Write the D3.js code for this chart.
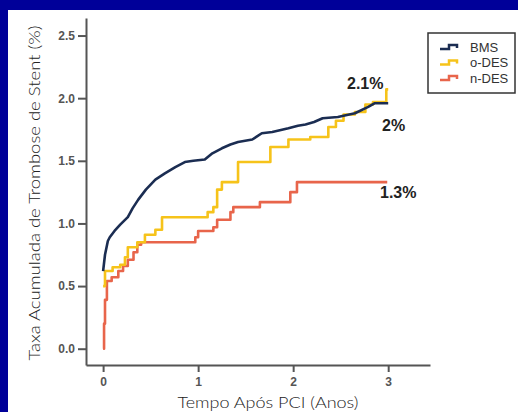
<!DOCTYPE html>
<html>
<head>
<meta charset="utf-8">
<script src="https://cdn.jsdelivr.net/npm/d3@7"></script>
<style>
  body { margin: 0; background: #000099; }
  svg { display: block; }
</style>
</head>
<body>
<script>
// series: [years after PCI, cumulative rate %]
const bms = [[0, 0.62], [0.02, 0.75], [0.05, 0.86], [0.07, 0.89], [0.12, 0.94], [0.18, 0.99], [0.22, 1.02],
  [0.26, 1.05], [0.31, 1.12], [0.37, 1.19], [0.45, 1.27], [0.55, 1.35], [0.65, 1.40], [0.76, 1.45],
  [0.86, 1.49], [0.95, 1.50], [1.07, 1.51], [1.15, 1.56], [1.25, 1.60], [1.34, 1.63], [1.42, 1.65],
  [1.57, 1.67], [1.67, 1.72], [1.78, 1.73], [1.95, 1.76], [2.05, 1.78], [2.13, 1.79], [2.22, 1.81],
  [2.31, 1.84], [2.47, 1.85], [2.65, 1.88], [2.79, 1.93], [2.86, 1.96], [3.0, 1.96]];
const odes = [[0, 0.5], [0.02, 0.62], [0.1, 0.65], [0.18, 0.67], [0.23, 0.73], [0.26, 0.81], [0.36, 0.85],
  [0.44, 0.91], [0.55, 0.95], [0.62, 1.05], [1.1, 1.09], [1.16, 1.13], [1.2, 1.27], [1.25, 1.33],
  [1.42, 1.49], [1.76, 1.61], [1.95, 1.67], [2.18, 1.69], [2.37, 1.77], [2.45, 1.82], [2.53, 1.87],
  [2.65, 1.89], [2.76, 1.95], [2.84, 1.97], [2.98, 2.07], [3.0, 2.07]];
const ndes = [[0, 0], [0.01, 0.2], [0.02, 0.39], [0.04, 0.54], [0.09, 0.57], [0.16, 0.62], [0.21, 0.66],
  [0.26, 0.71], [0.32, 0.77], [0.36, 0.83], [0.4, 0.85], [0.97, 0.89], [1.0, 0.94], [1.16, 0.97],
  [1.2, 1.03], [1.34, 1.09], [1.37, 1.13], [1.65, 1.17], [1.97, 1.25], [2.04, 1.33], [2.99, 1.33]];

const seriesNames = ["BMS", "o-DES", "n-DES"];
const seriesColors = ["#1b2d52", "#f6c31a", "#e8654b"];
const endLabels = ["2%", "2.1%", "1.3%"];
const xTicks = [0, 1, 2, 3];
const yTicks = [0, 0.5, 1.0, 1.5, 2.0, 2.5];

const W = 518, H = 412;
const svg = d3.select("body").append("svg").attr("width", W).attr("height", H);

// white panel inside the navy frame
svg.append("rect").attr("x", 8).attr("y", 10).attr("width", W - 8).attr("height", H - 10).attr("fill", "#fff");

const x = d3.scaleLinear().domain([-0.18, 3.44]).range([86, 430]);
const y = d3.scaleLinear().domain([-0.13, 2.64]).range([365, 18]);

const axisColor = "#555";

let gx = svg.append("g").attr("transform", "translate(0,365)")
    .call(d3.axisBottom(x).tickValues(xTicks).tickFormat(d3.format("d")).tickSize(7).tickSizeOuter(0));
let gy = svg.append("g").attr("transform", "translate(86,0)")
    .call(d3.axisLeft(y).tickValues(yTicks).tickFormat(d3.format(".1f")).tickSize(8).tickSizeOuter(0));

[gx, gy].forEach(g => {
    g.select(".domain").attr("stroke", axisColor).attr("stroke-width", 2);
    g.selectAll(".tick line").attr("stroke", axisColor).attr("stroke-width", 2);
    g.selectAll(".tick text")
        .attr("fill", axisColor)
        .style("font-family", "'Liberation Sans', Arial, sans-serif")
        .style("font-weight", "bold")
        .style("font-size", "12px");
});
gx.selectAll(".tick text").attr("dy", "1em").attr("y", 9);
gy.selectAll(".tick text").attr("x", -11);

// lines: BMS has many tiny steps, so a plain line reads closer than coarse steps
const stepLine = d3.line()
    .x(d => x(d[0]))
    .y(d => y(d[1]))
    .curve(d3.curveStepAfter);
const smoothLine = d3.line()
    .x(d => x(d[0]))
    .y(d => y(d[1]));

const allSeries = [bms, odes, ndes];
// draw red first, then yellow, then navy on top
[2, 1, 0].forEach(i => {
    svg.append("path")
        .datum(allSeries[i])
        .attr("fill", "none")
        .attr("stroke", seriesColors[i])
        .attr("stroke-width", 2.6)
        .attr("stroke-linejoin", "round")
        .attr("d", i === 0 ? smoothLine : stepLine);
});

// end labels
const labelPos = [[382, 131], [347, 89], [380, 198]];
endLabels.forEach((t, i) => {
    svg.append("text")
        .attr("x", labelPos[i][0])
        .attr("y", labelPos[i][1])
        .attr("fill", "#222")
        .style("font-family", "'Liberation Sans', Arial, sans-serif")
        .style("font-weight", "bold")
        .style("font-size", "16px")
        .text(t);
});

// legend
const lg = svg.append("g").attr("transform", "translate(428,33)");
lg.append("rect").attr("width", 87).attr("height", 60)
    .attr("fill", "#fff").attr("stroke", "#333").attr("stroke-width", 1.5);
seriesNames.forEach((name, i) => {
    const cy = 14 + i * 15.5;
    lg.append("path")
        .attr("d", `M12,${cy + 2}H21V${cy - 2}H29V${cy + 1}`)
        .attr("fill", "none")
        .attr("stroke", seriesColors[i])
        .attr("stroke-width", 2.5);
    lg.append("text")
        .attr("x", 42)
        .attr("y", cy + 4.5)
        .attr("fill", "#333")
        .style("font-family", "'Liberation Sans Narrow', 'Arial Narrow', sans-serif")
        .style("font-size", "13px")
        .text(name);
});

// axis titles
svg.append("text")
    .attr("x", 268).attr("y", 408)
    .attr("text-anchor", "middle")
    .attr("fill", "#222")
    .attr("textLength", 181)
    .attr("lengthAdjust", "spacingAndGlyphs")
    .style("font-family", "Lato, sans-serif")
    .style("font-weight", 300)
    .style("font-size", "16px")
    .text("Tempo Após PCI (Anos)");

svg.append("text")
    .attr("transform", "translate(40,193) rotate(-90)")
    .attr("text-anchor", "middle")
    .attr("fill", "#222")
    .attr("textLength", 335)
    .attr("lengthAdjust", "spacingAndGlyphs")
    .style("font-family", "Lato, sans-serif")
    .style("font-weight", 300)
    .style("font-size", "16px")
    .text("Taxa Acumulada de Trombose de Stent (%)");
</script>
</body>
</html>
